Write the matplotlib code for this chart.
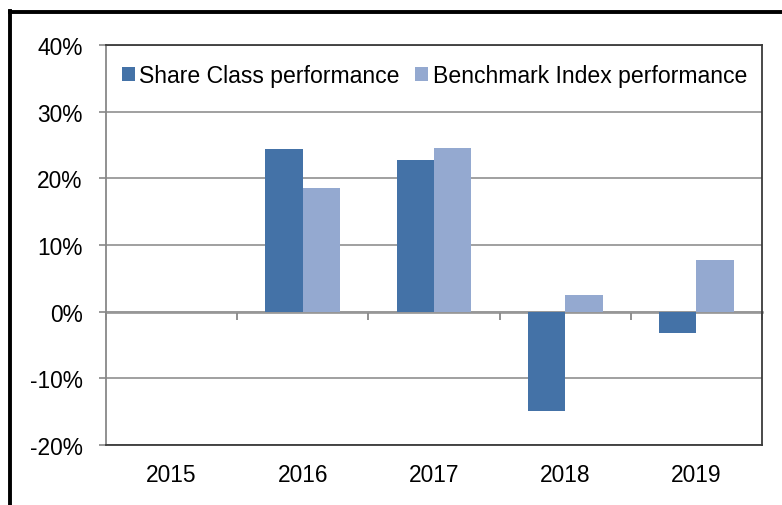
import numpy as np
import matplotlib
matplotlib.use("Agg")
import matplotlib.pyplot as plt
from matplotlib.lines import Line2D

plt.rcParams['font.family'] = ['Liberation Sans', 'DejaVu Sans']

years = ["2015", "2016", "2017", "2018", "2019"]
share_class = [np.nan, 24.4, 22.7, -14.9, -3.2]
benchmark = [np.nan, 18.5, 24.5, 2.5, 7.7]
series_names = ["Share Class performance", "Benchmark Index performance"]
yticks = [-20, -10, 0, 10, 20, 30, 40]

c_dark = "#4472a7"
c_light = "#94a9d0"

fig = plt.figure(figsize=(7.82, 5.06), dpi=100)
ax = fig.add_axes([106/782, 60/506, (762-106)/782, (446-46)/506])

x = np.arange(len(years))
w = 1/3.5
ax.bar(x - w/2, share_class, w, color=c_dark, label=series_names[0], zorder=3)
ax.bar(x + w/2, benchmark, w, color=c_light, label=series_names[1], zorder=3)

ax.set_xlim(-0.5, len(years) - 0.5)
ax.set_ylim(-20, 40)
ax.set_yticks(yticks)
ax.set_yticklabels([f"{v}%" for v in yticks])
ax.yaxis.grid(True, color="#999999", linewidth=1.3, zorder=0)
ax.set_axisbelow(True)
ax.tick_params(axis='y', length=5, width=1.2, color="#888888", pad=12, labelsize=16.4)
ax.set_xticks(x)
ax.set_xticklabels(years)
ax.tick_params(axis='x', length=0, pad=13, labelsize=16.4)

for s in ['top', 'right', 'bottom']:
    ax.spines[s].set_color("#3a3a3a")
    ax.spines[s].set_linewidth(1.3)
ax.spines['left'].set_color("#888888")
ax.spines['left'].set_linewidth(1.3)

sec = ax.secondary_xaxis(1/3)
sec.set_xticks(np.arange(len(years) + 1) - 0.5)
sec.set_xticklabels([])
sec.tick_params(axis='x', direction='out', length=6, width=1.3, color="#888888")
sec.spines['bottom'].set_color("#888888")
sec.spines['bottom'].set_linewidth(1.8)
sec.spines['bottom'].set_zorder(4)

leg = ax.legend(loc='center left', bbox_to_anchor=(0.024, 0.923), ncol=2, frameon=False,
                fontsize=16.6, handlelength=0.57, handleheight=0.57, handletextpad=0.19,
                columnspacing=0.67, borderaxespad=0, borderpad=0)

fig.add_artist(Line2D([10/782, 10/782], [0, 1 - 12/506], color="black", linewidth=2.8,
                      transform=fig.transFigure, solid_capstyle='projecting'))
fig.add_artist(Line2D([10/782, 1], [1 - 13/506, 1 - 13/506], color="black", linewidth=2.8,
                      transform=fig.transFigure, solid_capstyle='projecting'))

fig.savefig("out.png", dpi=100)
